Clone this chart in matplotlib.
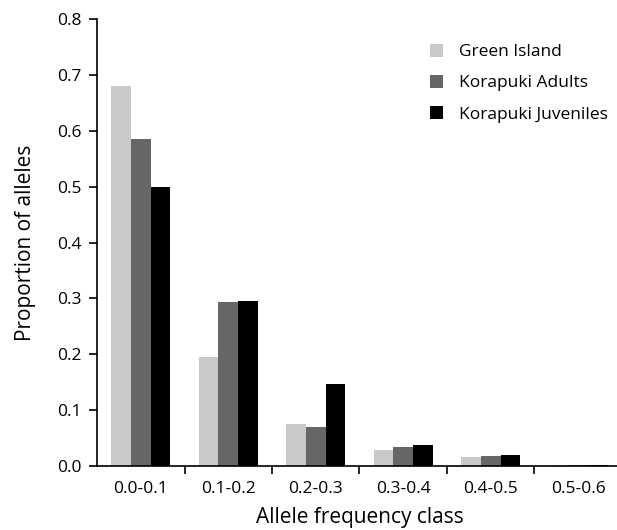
import matplotlib
matplotlib.use("Agg")
import matplotlib.pyplot as plt
import numpy as np

categories = ["0.0-0.1", "0.1-0.2", "0.2-0.3", "0.3-0.4", "0.4-0.5", "0.5-0.6"]
green_island = [0.681, 0.195, 0.076, 0.029, 0.016, 0.0015]
korapuki_adults = [0.586, 0.293, 0.070, 0.034, 0.018, 0.001]
korapuki_juveniles = [0.500, 0.296, 0.147, 0.038, 0.020, 0.001]
series_names = ["Green Island", "Korapuki Adults", "Korapuki Juveniles"]
colors = ["#c9c9c9", "#666666", "#000000"]

plt.rcParams['font.family'] = ['Open Sans', 'DejaVu Sans']

fig = plt.figure(figsize=(6.17, 5.30), dpi=100)
ax = fig.add_axes([97/617, 64/530, 525/617, 446.7/530])

x = np.arange(len(categories))
w = 0.225
for i, (vals, name, c) in enumerate(zip([green_island, korapuki_adults, korapuki_juveniles], series_names, colors)):
    ax.bar(x + (i - 1) * w, vals, width=w, color=c, label=name, edgecolor='none')

ax.set_xlim(-0.5, len(categories) - 0.5)
ax.set_ylim(0, 0.8)
ax.set_yticks(np.arange(0, 0.81, 0.1))
ax.set_yticklabels([f"{v:.1f}" for v in np.arange(0, 0.81, 0.1)])
ax.set_xticks(x)
ax.set_xticklabels(categories)
ax.set_xticks(np.arange(0.5, len(categories) - 0.5, 1), minor=True)
ax.tick_params(axis='x', which='major', length=0, pad=11, labelsize=12.5)
ax.tick_params(axis='x', which='minor', length=6, width=1.2, direction='out')
ax.tick_params(axis='y', length=6, width=1.2, direction='out', pad=5, labelsize=12.5)

for s in ['top', 'right']:
    ax.spines[s].set_visible(False)
ax.spines['left'].set_linewidth(1.2)
ax.spines['bottom'].set_linewidth(1.2)

ax.set_xlabel("Allele frequency class", fontsize=15, labelpad=7)
ax.set_ylabel("Proportion of alleles", fontsize=15, labelpad=15)

leg = ax.legend(loc='upper left', bbox_to_anchor=(0.605, 0.98), frameon=False,
                fontsize=12.5, handlelength=0.75, handleheight=0.75,
                handletextpad=0.9, labelspacing=0.85)

fig.savefig("out.png", dpi=100)
